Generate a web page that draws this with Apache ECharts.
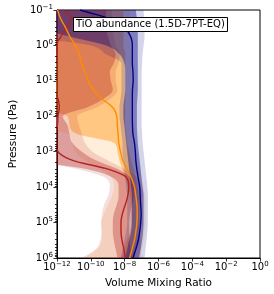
<!DOCTYPE html>
<html><head><meta charset="utf-8">
<script src="https://cdn.jsdelivr.net/npm/echarts@6/dist/echarts.min.js"></script>
<style>html,body{margin:0;padding:0;background:#fff}#c{width:274px;height:294px}</style>
</head><body><div id="c"></div>
<script>
// Pressure grid (Pa)
const pressure = [0.1,0.178,0.316,0.562,1,1.78,3.16,5.62,10,17.8,31.6,56.2,100,178,316,562,1000,1780,3160,5620,1e4,1.78e4,3.16e4,5.62e4,1e5,1.78e5,3.16e5,5.62e5,1e6];

// Navy model
const navyMedian = [2.3e-11,1.34e-9,9.6e-9,2.25e-8,2.85e-8,2.85e-8,2.85e-8,3.1e-8,3.2e-8,2.9e-8,2.85e-8,2.85e-8,2.85e-8,2.9e-8,3.1e-8,3.8e-8,4.3e-8,4.6e-8,5.3e-8,6.4e-8,7.8e-8,8.3e-8,8.9e-8,9.5e-8,8.9e-8,7.8e-8,6.4e-8,4.6e-8,3.1e-8];
const navyLo1 = [1e-13,1e-13,1e-13,5.5e-12,8.0e-10,5.0e-9,9.6e-9,1.09e-8,1.09e-8,1.09e-8,9.6e-9,8.4e-9,8.4e-9,9.6e-9,1.09e-8,1.24e-8,1.42e-8,1.62e-8,1.85e-8,2.1e-8,2.4e-8,2.73e-8,2.73e-8,2.73e-8,2.73e-8,2.4e-8,1.85e-8,1.42e-8,1.09e-8];
const navyHi1 = [4.6e-8,5.3e-8,6.0e-8,6.0e-8,6.0e-8,6.0e-8,6.0e-8,6.0e-8,6.0e-8,6.0e-8,5.6e-8,5.3e-8,5.3e-8,5.3e-8,5.6e-8,6.0e-8,6.8e-8,7.8e-8,8.9e-8,1.01e-7,1.15e-7,1.32e-7,1.32e-7,1.32e-7,1.32e-7,1.23e-7,1.08e-7,8.9e-8,6.8e-8];
const navyLo2 = [1e-13,1e-13,1e-13,1e-13,1.0e-10,8.0e-10,6.5e-9,6.5e-9,6.5e-9,6.5e-9,5.7e-9,5.0e-9,5.0e-9,5.7e-9,6.5e-9,7.4e-9,7.4e-9,8.4e-9,9.6e-9,1.09e-8,1.24e-8,1.42e-8,1.42e-8,1.42e-8,1.42e-8,1.24e-8,9.6e-9,7.4e-9,5.7e-9];
const navyHi2 = [1.32e-7,1.41e-7,1.5e-7,1.5e-7,1.32e-7,1.15e-7,1.08e-7,1.01e-7,1.01e-7,1.01e-7,1.01e-7,1.01e-7,1.01e-7,1.01e-7,1.08e-7,1.15e-7,1.32e-7,1.5e-7,1.71e-7,1.95e-7,2.2e-7,2.35e-7,2.35e-7,2.35e-7,2.35e-7,2.2e-7,1.95e-7,1.71e-7,1.5e-7];

// Red model
const redMedian = [2.2e-12,8.1e-12,3.7e-12,1.69e-12,9.4e-13,1.0e-12,8.8e-13,6.8e-13,5.9e-13,6.8e-13,1.14e-12,1.39e-12,1.14e-12,1.07e-12,7.7e-13,8.2e-13,1.14e-12,9.3e-12,1.18e-9,1.42e-8,1.73e-8,1.52e-8,1.09e-8,7.4e-9,6.1e-9,6.1e-9,7.0e-9,9.0e-9,1.09e-8];
const redLo1 = [1e-13,1e-13,1e-13,1e-13,1e-13,1e-13,1e-13,1e-13,1e-13,1e-13,1e-13,1e-13,1e-13,1e-13,1e-13,1e-13,1e-13,1e-13,7.5e-11,2.3e-9,4.4e-9,4.4e-9,3.4e-9,2.3e-9,2.0e-9,2.0e-9,2.3e-9,2.95e-9,3.8e-9];
const redHi1 = [8.0e-10,8.0e-10,8.0e-10,1.04e-9,1.53e-9,2.95e-9,2.3e-9,1.34e-9,1.53e-9,2.0e-9,6.1e-10,5.8e-11,2.2e-12,4.2e-12,5.5e-12,8.1e-12,3.0e-11,2.15e-10,4.4e-9,2.4e-8,3.55e-8,3.55e-8,2.73e-8,2.1e-8,1.85e-8,1.85e-8,1.97e-8,2.25e-8,2.73e-8];
const redLo2 = [1e-13,1e-13,1e-13,1e-13,1e-13,1e-13,1e-13,1e-13,1e-13,1e-13,1e-13,1e-13,1e-13,1e-13,1e-13,1e-13,1e-13,1e-13,2.0e-11,8.0e-10,1.34e-9,1.04e-9,6.1e-10,4.7e-10,4.1e-10,4.1e-10,3.6e-10,2.0e-10,3.0e-11];
const redHi2 = [1.75e-9,1.75e-9,1.75e-9,2.3e-9,2.95e-9,5.0e-9,4.4e-9,2.95e-9,2.95e-9,3.8e-9,1.53e-9,2.15e-10,1.56e-11,2.0e-11,3.0e-11,4.5e-11,1.27e-10,1.04e-9,1.09e-8,6.0e-8,8.9e-8,1.01e-7,8.9e-8,7.8e-8,7.8e-8,7.8e-8,8.9e-8,8.9e-8,1.01e-7];

// Orange model
const orangeMedian = [1.07e-12,1.69e-12,3.25e-12,5.8e-12,1.23e-11,2.1e-11,2.8e-11,4.6e-11,7.0e-11,1.45e-10,4.4e-10,2.0e-9,3.4e-9,3.7e-9,4.1e-9,4.5e-9,5.7e-9,7.9e-9,1.42e-8,2.55e-8,3.8e-8,4.6e-8,5.3e-8,5.5e-8,5.3e-8,4.6e-8,3.8e-8,2.73e-8,2.0e-8];
const orangeLo1 = [1e-13,1e-13,1e-13,1e-13,1e-13,1e-13,1e-13,1e-13,1e-13,1e-13,1e-13,1e-13,4.2e-12,5.5e-12,1.56e-11,2.3e-9,3.8e-9,5.0e-9,7.4e-9,1.09e-8,1.62e-8,2.1e-8,2.4e-8,2.4e-8,2.4e-8,2.1e-8,1.42e-8,9.6e-9,6.5e-9];
const orangeHi1 = [8.4e-9,8.4e-9,8.4e-9,8.4e-9,8.4e-9,1.09e-8,1.09e-8,1.09e-8,1.09e-8,1.09e-8,1.09e-8,1.09e-8,1.09e-8,1.09e-8,1.24e-8,1.42e-8,1.85e-8,2.4e-8,3.55e-8,4.6e-8,6.0e-8,6.8e-8,7.8e-8,7.8e-8,7.8e-8,6.8e-8,6.0e-8,4.6e-8,3.55e-8];
const orangeLo2 = [1e-13,1e-13,1e-13,1e-13,1e-13,1e-13,1e-13,1e-13,1e-13,1e-13,1e-13,1e-13,1e-13,1e-13,4.2e-12,8.1e-12,1.2e-11,4.5e-11,4.1e-10,1.75e-9,2.3e-9,1.75e-9,1.04e-9,6.1e-10,4.1e-10,4.7e-10,4.5e-10,2.3e-10,4.5e-11];
const orangeHi2 = [2.1e-8,2.1e-8,2.1e-8,2.1e-8,2.1e-8,2.4e-8,2.4e-8,2.4e-8,2.4e-8,2.4e-8,2.4e-8,2.4e-8,2.4e-8,2.4e-8,2.73e-8,3.1e-8,4.05e-8,5.3e-8,7.8e-8,1.01e-7,1.32e-7,1.5e-7,1.71e-7,1.71e-7,1.71e-7,1.5e-7,1.32e-7,1.01e-7,7.8e-8];

// Axis ranges / tick exponents
const xExpTicks = [-12,-10,-8,-6,-4,-2,0];
const yExpTicks = [-1,0,1,2,3,4,5,6];
const titleText = 'TiO abundance (1.5D-7PT-EQ)';

const FONT = 'DejaVu Sans';
const lg = Math.log10;
const xMin = xExpTicks[0], xMax = xExpTicks[xExpTicks.length-1];
const yMin = yExpTicks[0], yMax = yExpTicks[yExpTicks.length-1];
const SUB = 6;

// monotone cubic (Fritsch-Carlson) resampling along the pressure grid (log space)
function mono(y) {
  const n = y.length, d = [], m = [];
  for (let i = 0; i < n - 1; i++) d[i] = y[i + 1] - y[i];
  m[0] = d[0]; m[n - 1] = d[n - 2];
  for (let i = 1; i < n - 1; i++) m[i] = d[i - 1] * d[i] <= 0 ? 0 : (d[i - 1] + d[i]) / 2;
  for (let i = 0; i < n - 1; i++) {
    if (d[i] === 0) { m[i] = 0; m[i + 1] = 0; continue; }
    const a = m[i] / d[i], b = m[i + 1] / d[i], s = a * a + b * b;
    if (s > 9) { const t = 3 / Math.sqrt(s); m[i] = t * a * d[i]; m[i + 1] = t * b * d[i]; }
  }
  const out = [];
  for (let i = 0; i < n - 1; i++) for (let k = 0; k < SUB; k++) {
    const t = k / SUB, t2 = t * t, t3 = t2 * t;
    out.push((2 * t3 - 3 * t2 + 1) * y[i] + (t3 - 2 * t2 + t) * m[i] + (-2 * t3 + 3 * t2) * y[i + 1] + (t3 - t2) * m[i + 1]);
  }
  out.push(y[n - 1]);
  return out;
}
function linres(y) {
  const out = [];
  for (let i = 0; i < y.length - 1; i++) for (let k = 0; k < SUB; k++) out.push(y[i] + (y[i + 1] - y[i]) * k / SUB);
  out.push(y[y.length - 1]);
  return out;
}
const logP = linres(pressure.map(lg));

function band(lo, hi, rgb, a) {
  const L = mono(lo.map(lg)), H = mono(hi.map(lg));
  return {
    type: 'custom', coordinateSystem: 'cartesian2d', clip: true, silent: true,
    data: [[xMin, yMin]],
    renderItem: function (params, api) {
      const pts = [];
      for (let i = 0; i < logP.length; i++) pts.push(api.coord([L[i], logP[i]]));
      for (let i = logP.length - 1; i >= 0; i--) pts.push(api.coord([H[i], logP[i]]));
      return { type: 'polygon', shape: { points: pts }, style: { fill: 'rgba(' + rgb + ',' + a + ')', stroke: null } };
    }
  };
}
function line(vals, color) {
  const X = mono(vals.map(lg));
  return {
    type: 'line', symbol: 'none', silent: true, clip: true,
    data: X.map((v, i) => [v, logP[i]]),
    lineStyle: { color: color, width: 1.4 }, z: 5
  };
}
function sup(v) { return v < 0 ? '\u2212' + (-v) : String(v); }
const rich = {
  b: { fontSize: 10, fontFamily: FONT, color: '#000', lineHeight: 13 },
  s: { fontSize: 7, fontFamily: FONT, color: '#000', verticalAlign: 'top', lineHeight: 8 }
};

const RED = '178,34,34', ORA = '255,140,0', NAV = '0,0,128';

const minorTicks = {
  type: 'custom', coordinateSystem: 'cartesian2d', clip: false, silent: true, z: 10,
  data: [[xMin, yMin]],
  renderItem: function (params, api) {
    const ch = [];
    for (let d = yMin; d < yMax; d++) for (let k = 2; k <= 9; k++) {
      const p = api.coord([xMin, d + lg(k)]);
      ch.push({ type: 'line', shape: { x1: p[0] - 2, y1: Math.round(p[1]) + 0.5, x2: p[0], y2: Math.round(p[1]) + 0.5 }, style: { stroke: '#000', lineWidth: 0.8 } });
    }
    return { type: 'group', children: ch };
  }
};

const axisCommon = {
  axisLine: { show: true, onZero: false, lineStyle: { color: '#000', width: 1 } },
  axisTick: { show: true, length: 3.5, lineStyle: { color: '#000', width: 0.8 } },
  splitLine: { show: false },
  nameTextStyle: { fontSize: 10.5, fontFamily: FONT, color: '#000' }
};

const chart = echarts.init(document.getElementById('c'), null, { renderer: 'canvas' });
chart.setOption({
  animation: false,
  backgroundColor: '#fff',
  title: {
    text: titleText, left: 73, top: 17, padding: [1, 3, 1, 3],
    backgroundColor: '#fff', borderColor: '#000', borderWidth: 1,
    textStyle: { fontSize: 10, fontWeight: 'normal', fontFamily: FONT, color: '#000', lineHeight: 13 }
  },
  grid: { left: 49, right: 14, top: 10, bottom: 36, show: true, borderColor: '#000', borderWidth: 1, backgroundColor: 'transparent' },
  xAxis: Object.assign({
    type: 'value', min: xMin, max: xMax, interval: 2,
    name: 'Volume Mixing Ratio', nameLocation: 'middle', nameGap: 19,
    axisLabel: { margin: 3, formatter: v => '{b|10}{s|' + sup(v) + '}', rich: rich }
  }, axisCommon),
  yAxis: Object.assign({
    type: 'value', min: yMin, max: yMax, interval: 1, inverse: true,
    name: 'Pressure (Pa)', nameLocation: 'middle', nameGap: 33, nameRotate: 90,
    axisLabel: { margin: 4, formatter: v => '{b|10}{s|' + sup(v) + '}', rich: rich }
  }, axisCommon),
  series: [
    band(orangeLo2, orangeHi2, ORA, 0.15),
    band(orangeLo1, orangeHi1, ORA, 0.4),
    band(redLo2, redHi2, RED, 0.15),
    band(redLo1, redHi1, RED, 0.34),
    band(navyLo2, navyHi2, NAV, 0.17),
    band(navyLo1, navyHi1, NAV, 0.4),
    line(redMedian, '#b22222'),
    line(orangeMedian, '#ff8c00'),
    line(navyMedian, '#000080'),
    minorTicks
  ]
});
</script></body></html>
